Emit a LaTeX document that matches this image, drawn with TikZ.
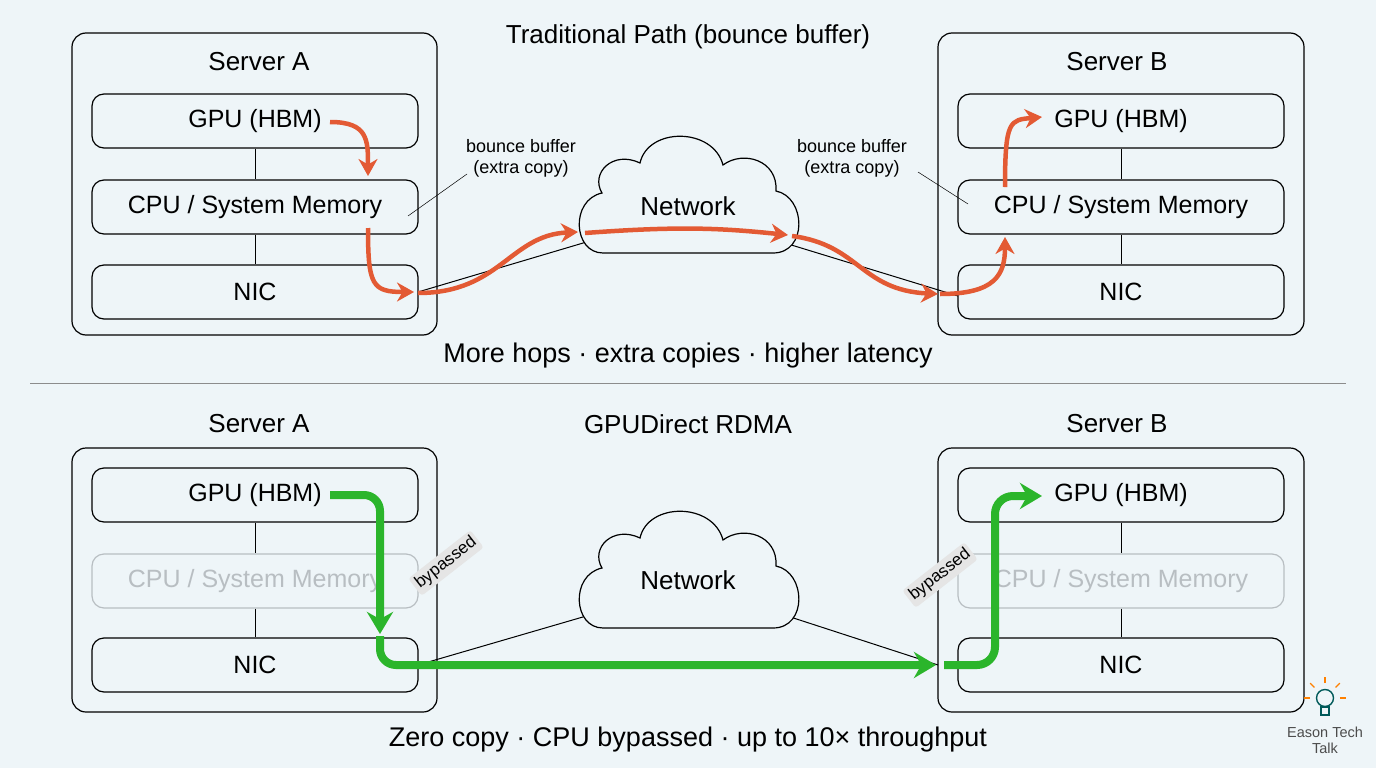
\documentclass[tikz,border=0pt]{standalone}
\usepackage{fontspec}
\setmainfont{Liberation Sans}
\usetikzlibrary{arrows.meta}
\definecolor{bg}{HTML}{EEF5F8}
\definecolor{red}{HTML}{E35A34}
\definecolor{grn}{HTML}{2BB52B}
\definecolor{faded}{HTML}{B8BEC2}
\begin{document}
\begin{tikzpicture}[x=1pt,y=-1pt,
  outer/.style={draw,line width=1.2pt,rounded corners=14pt},
  inner/.style={draw,line width=1.2pt,rounded corners=12pt,minimum width=326pt,minimum height=54pt,font=\fontsize{25}{29}\selectfont},
  fadedbox/.style={inner,draw=faded,text=faded},
  title/.style={font=\fontsize{26}{30}\selectfont},
  small/.style={font=\fontsize{18}{21}\selectfont,align=center},
  redarr/.style={draw=red,line width=4.5pt,-{Stealth[length=17pt,width=19pt]}},
  grnarr/.style={draw=grn,line width=8pt,-{Stealth[length=22pt,width=26pt]}},
  conn/.style={line width=1pt},
  bypass/.style={fill=black!10,rounded corners=3pt,inner sep=3pt,rotate=38,font=\fontsize{17}{20}\selectfont},
  bigcap/.style={font=\fontsize{27}{31}\selectfont}]
\fill[bg] (0,0) rectangle (1376,768);
\useasboundingbox (0,0) rectangle (1376,768);
\def\cloud#1#2{\draw[line width=1.2pt,fill=bg] (#1-85,#2+48) -- (#1+85,#2+48) .. controls (#1+120,#2+48) and (#1+118,#2-8) .. (#1+88,#2-14) .. controls (#1+90,#2-45) and (#1+55,#2-55) .. (#1+35,#2-40) .. controls (#1+25,#2-78) and (#1-40,#2-78) .. (#1-48,#2-42) .. controls (#1-75,#2-55) and (#1-98,#2-32) .. (#1-86,#2-12) .. controls (#1-118,#2-5) and (#1-115,#2+48) .. (#1-85,#2+48) -- cycle;}
% ---------- top ----------
\node[title] (t1) at (688,37) {Traditional Path (bounce buffer)};
\draw[outer] (72,33) rectangle (437,335);
\draw[outer] (938,33) rectangle (1304,335);
\node[title] (sa1) at (259,62) {Server A};
\node[title] (sb1) at (1117,62) {Server B};
\node[inner] (ga) at (255,121) {GPU (HBM)};
\node[inner] (ca) at (255,207) {CPU / System Memory};
\node[inner] (na) at (255,292) {NIC};
\node[inner] (gb) at (1121,121) {GPU (HBM)};
\node[inner] (cb) at (1121,207) {CPU / System Memory};
\node[inner] (nb) at (1121,292) {NIC};
\draw[conn] (ga) -- (ca); \draw[conn] (ca) -- (na);
\draw[conn] (gb) -- (cb); \draw[conn] (cb) -- (nb);
\draw[conn] (418,292) -- (600,238);
\draw[conn] (775,240) -- (958,296);
\cloud{688}{205}
\node[title] (net1) at (688,206) {Network};
\node[small] (bb1) at (521,158) {bounce buffer\\(extra copy)};
\node[small] (bb2) at (852,158) {bounce buffer\\(extra copy)};
\draw[line width=0.5pt] (467,174) -- (408,216);
\draw[line width=0.5pt] (918,172) -- (968,204);
\draw[redarr] (330,122) .. controls (368,122) and (368,140) .. (368,176);
\draw[redarr] (368,228) .. controls (368,285) and (372,292) .. (414,292);
\draw[redarr] (418,293) .. controls (500,293) and (510,235) .. (578,232);
\draw[redarr] (585,233) .. controls (680,226) and (720,228) .. (788,235);
\draw[redarr] (792,236) .. controls (860,245) and (860,290) .. (938,294);
\draw[redarr] (940,294) .. controls (995,294) and (1005,275) .. (1005,237);
\draw[redarr] (1005,187) .. controls (1005,120) and (1010,120) .. (1042,117);
\node[bigcap] (cap1) at (688,356) {More hops · extra copies · higher latency};
\draw[line width=0.6pt,black!45] (30,383) -- (1346,383);
% ---------- bottom ----------
\node[title] (sa2) at (259,424) {Server A};
\node[title] (t2) at (688,424) {GPUDirect RDMA};
\node[title] (sb2) at (1117,424) {Server B};
\draw[outer] (72,448) rectangle (437,712);
\draw[outer] (938,448) rectangle (1304,712);
\node[inner] (ga2) at (255,495) {GPU (HBM)};
\node[fadedbox] (ca2) at (255,581) {CPU / System Memory};
\node[inner] (na2) at (255,665) {NIC};
\node[inner] (gb2) at (1121,495) {GPU (HBM)};
\node[fadedbox] (cb2) at (1121,581) {CPU / System Memory};
\node[inner] (nb2) at (1121,665) {NIC};
\draw[conn] (ga2) -- (ca2); \draw[conn] (ca2) -- (na2);
\draw[conn] (gb2) -- (cb2); \draw[conn] (cb2) -- (nb2);
\draw[conn] (418,665) -- (600,612);
\draw[conn] (775,612) -- (938,665);
\cloud{688}{580}
\node[title] (net2) at (688,580) {Network};
\draw[grnarr,rounded corners=16pt] (330,495) -- (380,495) -- (380,634);
\draw[grnarr,rounded corners=16pt] (380,636) -- (380,665) -- (936,665);
\draw[grnarr,rounded corners=18pt] (944,665) -- (995,665) -- (995,496) -- (1042,496);
\node[bypass] (bp1) at (446,563) {bypassed};
\node[bypass] (bp2) at (940,575) {bypassed};
\node[bigcap] (cap2) at (688,740) {Zero copy · CPU bypassed · up to 10× throughput};
% logo
\begin{scope}[shift={(1325,704)}]
\draw[line width=1.4pt,draw=teal!70!black] (0,-6) circle (8.5);
\draw[line width=1.4pt,draw=teal!70!black] (-4,3) rectangle (4,11);
\foreach \a in {0,45,90,135,180} \draw[line width=1.3pt,orange] ({15*cos(\a)},{-6-15*sin(\a)}) -- ({21*cos(\a)},{-6-21*sin(\a)});
\end{scope}
\node[font=\fontsize{14.5}{16}\selectfont,align=center,text=black!70] (logo) at (1325,740) {Eason Tech\\Talk};
\end{tikzpicture}
\end{document}
